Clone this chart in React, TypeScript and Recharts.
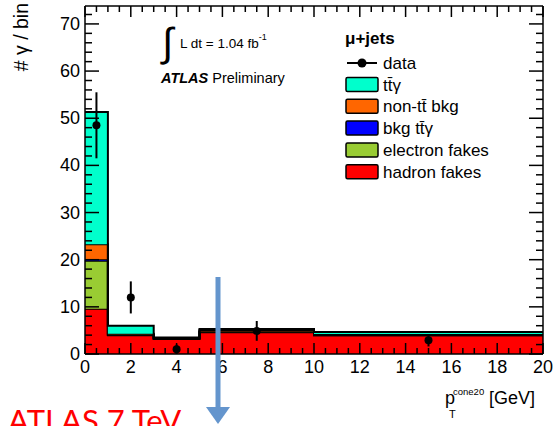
import { ComposedChart, Area, Scatter, ErrorBar, XAxis, YAxis } from 'recharts';

// bin edges of the p_T^cone20 histogram (GeV), variable width
const binEdges = [0, 1, 3, 5, 10, 20];

// stacked contributions per bin (bottom to top)
const hadronFakes = [9.6, 4.0, 3.2, 4.6, 4.0];
const electronFakes = [10.2, 0.1, 0.1, 0.1, 0.0];
const bkgTtg = [0.3, 0.0, 0.0, 0.1, 0.05];
const nonTtBkg = [3.2, 0.2, 0.1, 0.3, 0.2];
const ttg = [28.0, 1.7, 0.1, 0.2, 0.4];

// data points with statistical errors
const dataX = [0.5, 2, 4, 7.5, 15];
const dataY = [48.5, 12, 1.0, 4.9, 2.9];
const dataErr = [7.0, 3.4, 1.0, 2.1, 1.3];

const xMajorTicks = [0, 2, 4, 6, 8, 10, 12, 14, 16, 18, 20];
const yMajorTicks = [0, 10, 20, 30, 40, 50, 60, 70];

const legendItems = [
  { key: 'ttg', label: 'tt̄γ', color: '#00ffcc' },
  { key: 'nontt', label: 'non-tt̄ bkg', color: '#ff6600' },
  { key: 'bkgttg', label: 'bkg tt̄γ', color: '#0000ff' },
  { key: 'efake', label: 'electron fakes', color: '#99cc33' },
  { key: 'hfake', label: 'hadron fakes', color: '#ff0000' },
];

const FONT = '"Liberation Sans", Arial, Helvetica, sans-serif';
const Y_MAX = 73.8;

const nBins = hadronFakes.length;
// step histogram: one row per edge, last edge repeats the last bin
const histData = binEdges.map((x, i) => {
  const j = Math.min(i, nBins - 1);
  return {
    x,
    hfake: hadronFakes[j],
    efake: electronFakes[j],
    bkgttg: bkgTtg[j],
    nontt: nonTtBkg[j],
    ttg: ttg[j],
  };
});

const points = dataX.map((x, i) => ({ x, y: dataY[i], err: dataErr[i] }));

const xTicks: number[] = [];
for (let v = 0; v <= 20; v += 0.5) xTicks.push(v);
const yTicks: number[] = [];
for (let v = 0; v <= 72; v += 2) yTicks.push(v);

function BottomTick({ x, y, payload }: any) {
  const v = payload.value;
  const major = xMajorTicks.includes(v);
  return (
    <g>
      <line x1={x} x2={x} y1={y} y2={y - (major ? 11 : 6)} stroke="#000" strokeWidth={1.5} />
      {major && (
        <text x={x} y={y + 19} textAnchor="middle" fontSize={18} fontFamily={FONT} fill="#000">
          {v}
        </text>
      )}
    </g>
  );
}

function TopTick({ x, y, payload }: any) {
  const major = xMajorTicks.includes(payload.value);
  return <line x1={x} x2={x} y1={y} y2={y + (major ? 11 : 6)} stroke="#000" strokeWidth={1.5} />;
}

function LeftTick({ x, y, payload }: any) {
  const v = payload.value;
  const major = yMajorTicks.includes(v);
  return (
    <g>
      <line x1={x} x2={x + (major ? 14 : 7)} y1={y} y2={y} stroke="#000" strokeWidth={1.5} />
      {major && (
        <text x={x - 5} y={y + 6} textAnchor="end" fontSize={18} fontFamily={FONT} fill="#000">
          {v}
        </text>
      )}
    </g>
  );
}

function RightTick({ x, y, payload }: any) {
  const major = yMajorTicks.includes(payload.value);
  return <line x1={x} x2={x - (major ? 14 : 7)} y1={y} y2={y} stroke="#000" strokeWidth={1.5} />;
}

const stackOrder = [
  { key: 'hfake', color: '#ff0000' },
  { key: 'efake', color: '#99cc33' },
  { key: 'bkgttg', color: '#0000ff' },
  { key: 'nontt', color: '#ff6600' },
  { key: 'ttg', color: '#00ffcc' },
];

const axisLine = { stroke: '#000', strokeWidth: 1.5 };

export default function App() {
  return (
    <div style={{ position: 'absolute', left: 0, top: 0, width: 557, height: 426, background: '#fff', overflow: 'hidden' }}>
      <ComposedChart
        width={557}
        height={426}
        data={histData}
        margin={{ top: 5, right: 13, bottom: 71, left: 84 }}
      >
        {stackOrder.map((s) => (
          <Area
            key={s.key}
            type="stepAfter"
            dataKey={s.key}
            stackId="mc"
            fill={s.color}
            fillOpacity={1}
            stroke="#000"
            strokeWidth={2}
            isAnimationActive={false}
          />
        ))}
        <Scatter
          data={points}
          dataKey="y"
          fill="#000"
          isAnimationActive={false}
          shape={(p: any) => <circle cx={p.cx} cy={p.cy} r={4} fill="#000" />}
        >
          <ErrorBar dataKey="err" direction="y" width={0} stroke="#000" strokeWidth={2} isAnimationActive={false} />
        </Scatter>
        <XAxis
          dataKey="x"
          type="number"
          domain={[0, 20]}
          ticks={xTicks}
          interval={0}
          height={1}
          tickSize={0}
          tickMargin={0}
          tickLine={false}
          tick={<BottomTick />}
          axisLine={axisLine}
          allowDataOverflow
        />
        <XAxis
          xAxisId="top"
          orientation="top"
          dataKey="x"
          type="number"
          domain={[0, 20]}
          ticks={xTicks}
          interval={0}
          height={1}
          tickSize={0}
          tickMargin={0}
          tickLine={false}
          tick={<TopTick />}
          axisLine={axisLine}
          allowDataOverflow
        />
        <YAxis
          type="number"
          domain={[0, Y_MAX]}
          ticks={yTicks}
          interval={0}
          width={1}
          tickSize={0}
          tickMargin={0}
          tickLine={false}
          tick={<LeftTick />}
          axisLine={axisLine}
          allowDataOverflow
        />
        <YAxis
          yAxisId="right"
          orientation="right"
          type="number"
          domain={[0, Y_MAX]}
          ticks={yTicks}
          interval={0}
          width={1}
          tickSize={0}
          tickMargin={0}
          tickLine={false}
          tick={<RightTick />}
          axisLine={axisLine}
          allowDataOverflow
        />
      </ComposedChart>

      <svg
        width={557}
        height={426}
        style={{ position: 'absolute', left: 0, top: 0, pointerEvents: 'none' }}
        fontFamily={FONT}
      >
        {/* y axis title */}
        <text transform="translate(28,3) rotate(-90)" textAnchor="end" fontSize={19.5} fill="#000">
          # γ / bin
        </text>

        {/* luminosity */}
        <text x={162} y={56} fontSize={40} fill="#000">∫</text>
        <text x={180} y={48} fontSize={13.5} fill="#000">
          L dt = 1.04 fb
          <tspan dy={-8} fontSize={9}>-1</tspan>
        </text>
        <text x={161} y={83} fontSize={14.5} fill="#000">
          <tspan fontWeight="bold" fontStyle="italic">ATLAS</tspan> Preliminary
        </text>

        {/* legend */}
        <text x={345} y={44} fontSize={17} fontWeight="bold" fill="#000">μ+jets</text>
        <line x1={347} x2={377} y1={63} y2={63} stroke="#000" strokeWidth={2} />
        <circle cx={362} cy={63} r={4.5} fill="#000" />
        <text x={383} y={69} fontSize={17} fill="#000">data</text>
        {legendItems.map((it, i) => {
          const cy = 84.5 + i * 21.8;
          return (
            <g key={it.key}>
              <rect x={346} y={cy - 7} width={32} height={14} rx={1.5} fill={it.color} stroke="#000" strokeWidth={1.5} />
              <text x={383} y={cy + 6} fontSize={17} fill="#000">{it.label}</text>
            </g>
          );
        })}

        {/* x axis title */}
        <text x={445} y={404} fontSize={18} fill="#000">p</text>
        <text x={453} y={395} fontSize={9.5} fill="#000">cone20</text>
        <text x={449} y={418} fontSize={11} fill="#000">T</text>
        <text x={489} y={404} fontSize={18} fill="#000">[GeV]</text>

        {/* slide annotation */}
        <text x={8} y={432} fontSize={31} fill="#ff0000" fontFamily='Lato, "Open Sans", sans-serif'>ATLAS 7 TeV</text>
        <rect x={215.5} y={277} width={5} height={133} fill="#6495cd" />
        <polygon points="206,407 230,407 218,424" fill="#6495cd" />
      </svg>
    </div>
  );
}
